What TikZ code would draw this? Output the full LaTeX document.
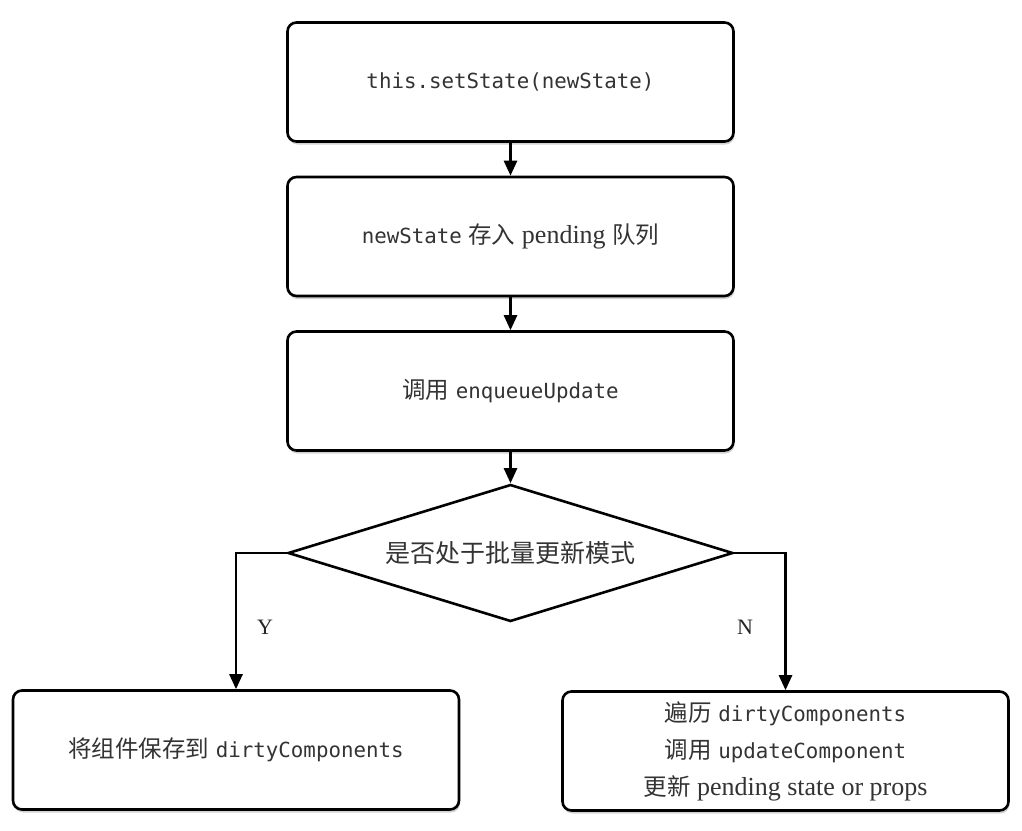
\documentclass[tikz,border=0pt]{standalone}
\usepackage{fontspec}
\setmainfont{Liberation Serif}
\setmonofont{DejaVu Sans Mono}
\newfontfamily\cjk{Noto Sans CJK SC}
\usetikzlibrary{shapes.geometric,arrows.meta,shadows}
\newcommand{\zh}[1]{{\fontsize{23.5}{37}\cjk #1}}
\newcommand{\cd}[1]{{\fontsize{20.8}{24}\ttfamily #1}}
\begin{document}
\begin{tikzpicture}[x=1pt,y=-1pt,
  base/.style={draw=black, line width=2.6pt, fill=white, text=black!80,
    font=\fontsize{26}{37}\selectfont,
    drop shadow={shadow xshift=1pt, shadow yshift=-3pt, opacity=0.35}},
  procbox/.style={base, rectangle, rounded corners=9pt, minimum width=446pt,
    minimum height=119pt, inner sep=0pt, align=center},
  decide/.style={draw=black, line width=2.6pt, fill=white, text=black!80,
    font=\fontsize{25}{28}\selectfont, shape=diamond, aspect=3.25,
    minimum width=445pt, minimum height=137pt, inner sep=0pt},
  arr/.style={line width=2.6pt, -{Triangle[length=15pt,width=13pt]}},
  lbl/.style={font=\fontsize{22}{26}\selectfont, text=black!85}]
\useasboundingbox (0,0) rectangle (1022,830);
\node[procbox] (b1) at (510.5,82) {\cd{this.setState(newState)}};
\node[procbox] (b2) at (510.5,236.5) {\cd{newState} \zh{存入} pending \zh{队列}};
\node[procbox] (b3) at (510.5,391) {\zh{调用} \cd{enqueueUpdate}};
\node[decide] (d) at (510.5,553) {{\cjk 是否处于批量更新模式}};
\node[procbox] (bl) at (236,750) {\zh{将组件保存到} \cd{dirtyComponents}};
\node[procbox] (br) at (785.5,751) {\zh{遍历} \cd{dirtyComponents}\\ \zh{调用} \cd{updateComponent}\\ \zh{更新} pending state or props};
\draw[arr] (b1) -- (b2);
\draw[arr] (b2) -- (b3);
\draw[arr] (b3) -- (d);
\draw[arr] (d.west) -| (bl.north);
\draw[arr] (d.east) -| (br.north);
\node[lbl] (y) at (265,627) {Y};
\node[lbl] (n) at (745,627) {N};
\end{tikzpicture}
\end{document}
